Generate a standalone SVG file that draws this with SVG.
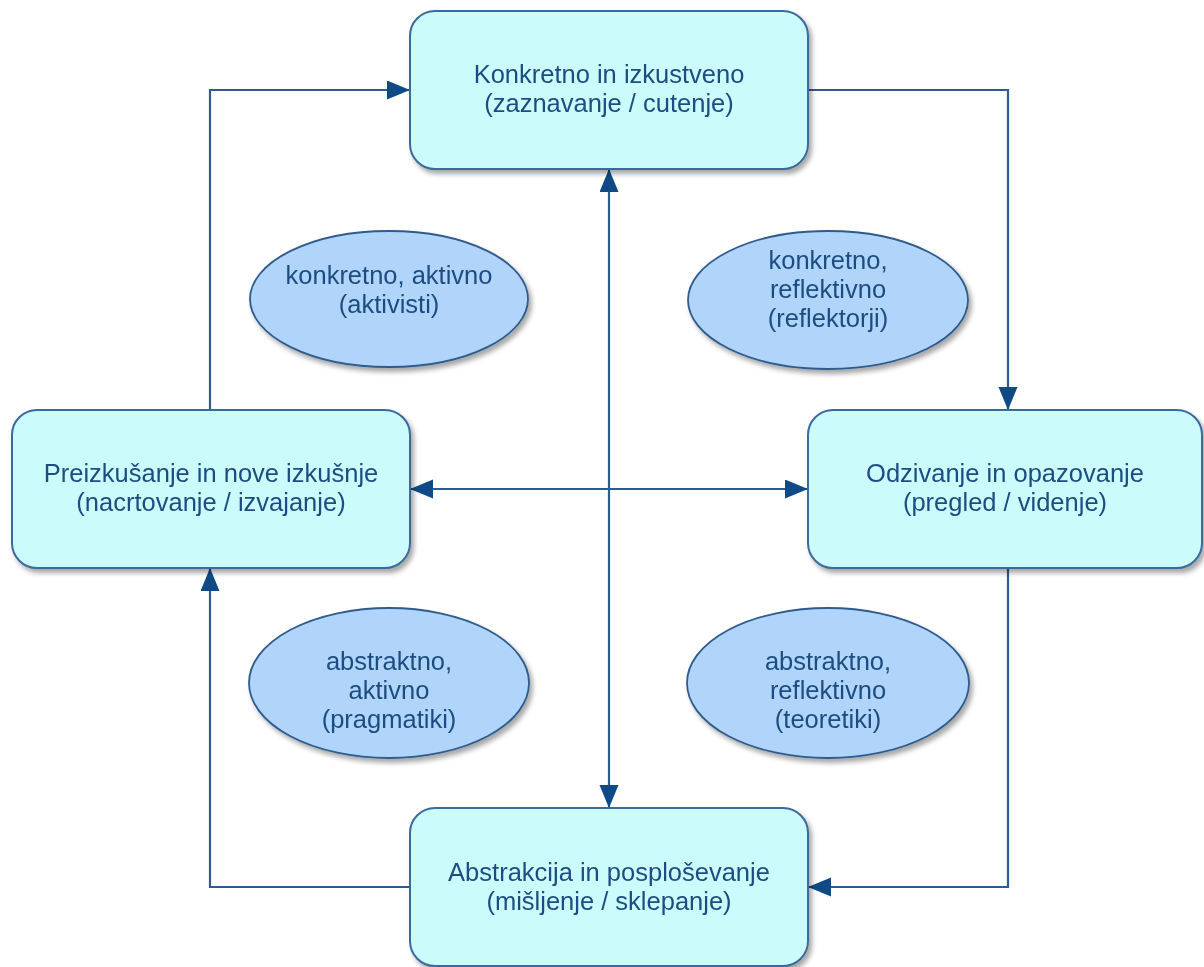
<svg xmlns="http://www.w3.org/2000/svg" width="1204" height="967" viewBox="0 0 1204 967">
  <style>
    .box { fill: #ccfbfb; stroke: #3a6a9c; stroke-width: 2; }
    .oval { fill: #b0d4fa; stroke: #2f5b8c; stroke-width: 1.8; }
    .link { fill: none; stroke: #2b5c92; stroke-width: 2.2; }
    text { font-family: "Liberation Sans", Arial, sans-serif; font-size: 25.5px; fill: #1d4d82; text-anchor: middle; }
  </style>
  <defs>
    <filter id="shadow" x="-10%" y="-10%" width="125%" height="130%">
      <feGaussianBlur in="SourceAlpha" stdDeviation="2.5"/>
      <feOffset dx="3" dy="4" result="blur"/>
      <feComponentTransfer><feFuncA type="linear" slope="0.35"/></feComponentTransfer>
      <feMerge><feMergeNode/><feMergeNode in="SourceGraphic"/></feMerge>
    </filter>
    <marker id="arrow" markerUnits="userSpaceOnUse" markerWidth="24" markerHeight="20" refX="23" refY="9.5" orient="auto-start-reverse">
      <path d="M0,0 L23,9.5 L0,19 Z" fill="#0f4a86"/>
    </marker>
  </defs>

  <rect width="1204" height="967" fill="#ffffff"/>

  <!-- connectors -->
  <g id="connectors">
    <path class="link" d="M210,410 V90 H410" marker-end="url(#arrow)"/>
    <path class="link" d="M808,90 H1008 V410" marker-end="url(#arrow)"/>
    <path class="link" d="M1008,568 V887 H808" marker-end="url(#arrow)"/>
    <path class="link" d="M410,887 H210 V568" marker-end="url(#arrow)"/>
    <path class="link" d="M609,169 V808" marker-start="url(#arrow)" marker-end="url(#arrow)"/>
    <path class="link" d="M410,489 H808" marker-start="url(#arrow)" marker-end="url(#arrow)"/>
  </g>

  <!-- stages -->
  <g id="node-konkretno" filter="url(#shadow)">
    <rect class="box" x="410" y="11" width="398" height="158" rx="25"/>
    <text x="609" y="83">Konkretno in izkustveno</text>
    <text x="609" y="112">(zaznavanje / cutenje)</text>
  </g>
  <g id="node-preizkusanje" filter="url(#shadow)">
    <rect class="box" x="12" y="410" width="398" height="158" rx="25"/>
    <text x="211" y="482">Preizkušanje in nove izkušnje</text>
    <text x="211" y="511">(nacrtovanje / izvajanje)</text>
  </g>
  <g id="node-odzivanje" filter="url(#shadow)">
    <rect class="box" x="808" y="410" width="394" height="158" rx="25"/>
    <text x="1005" y="482">Odzivanje in opazovanje</text>
    <text x="1005" y="511">(pregled / videnje)</text>
  </g>
  <g id="node-abstrakcija" filter="url(#shadow)">
    <rect class="box" x="410" y="808" width="398" height="158" rx="25"/>
    <text x="609" y="881">Abstrakcija in posploševanje</text>
    <text x="609" y="910">(mišljenje / sklepanje)</text>
  </g>

  <!-- learning styles -->
  <g id="style-aktivisti" filter="url(#shadow)">
    <ellipse class="oval" cx="389" cy="299" rx="139" ry="68"/>
    <text x="389" y="284">konkretno, aktivno</text>
    <text x="389" y="313">(aktivisti)</text>
  </g>
  <g id="style-reflektorji" filter="url(#shadow)">
    <ellipse class="oval" cx="828" cy="300" rx="140" ry="69"/>
    <text x="828" y="269">konkretno,</text>
    <text x="828" y="298">reflektivno</text>
    <text x="828" y="327">(reflektorji)</text>
  </g>
  <g id="style-pragmatiki" filter="url(#shadow)">
    <ellipse class="oval" cx="389" cy="683" rx="140" ry="75"/>
    <text x="389" y="670">abstraktno,</text>
    <text x="389" y="699">aktivno</text>
    <text x="389" y="728">(pragmatiki)</text>
  </g>
  <g id="style-teoretiki" filter="url(#shadow)">
    <ellipse class="oval" cx="828" cy="683" rx="141" ry="75"/>
    <text x="828" y="670">abstraktno,</text>
    <text x="828" y="699">reflektivno</text>
    <text x="828" y="728">(teoretiki)</text>
  </g>
</svg>
